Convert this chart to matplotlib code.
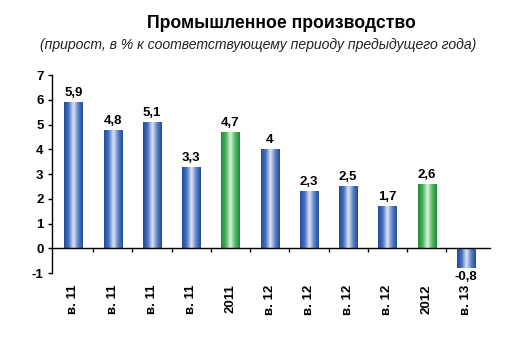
import matplotlib.pyplot as plt
import numpy as np
from matplotlib.colors import LinearSegmentedColormap

plt.rcParams["font.family"] = ["Liberation Sans", "DejaVu Sans"]
plt.rcParams["axes.unicode_minus"] = False

labels = ["в. 11", "в. 11", "в. 11", "в. 11", "2011", "в. 12",
          "в. 12", "в. 12", "в. 12", "2012", "в. 13"]
values = [5.9, 4.8, 5.1, 3.3, 4.7, 4.0, 2.3, 2.5, 1.7, 2.6, -0.8]
value_text = ["5,9", "4,8", "5,1", "3,3", "4,7", "4", "2,3", "2,5", "1,7", "2,6", "-0,8"]
is_year = [False, False, False, False, True, False, False, False, False, True, False]

blue_cmap = LinearSegmentedColormap.from_list(
    "blue_cyl", ["#1d4b9c", "#4a72c0", "#dfe6f6", "#5d82c8", "#1d4b9c"])
green_cmap = LinearSegmentedColormap.from_list(
    "green_cyl", ["#1f8a38", "#49b35c", "#dcf5de", "#55bb66", "#1f8a38"])

fig = plt.figure(figsize=(5.09, 3.4), dpi=100)
ax = fig.add_axes([0.102, 0.197, 0.861, 0.582])

x = np.arange(len(values))
bars = ax.bar(x, values, width=0.46, color="none", edgecolor="none", zorder=2)

# cylinder-like gradient in each bar
grad = np.linspace(0, 1, 64).reshape(1, -1)
for b, yr in zip(bars, is_year):
    x0, y0 = b.get_x(), b.get_y()
    w, h = b.get_width(), b.get_height()
    im = ax.imshow(grad, cmap=green_cmap if yr else blue_cmap, aspect="auto",
                   extent=[x0, x0 + w, y0, y0 + h], zorder=2)
    im.set_clip_path(b)

for xi, v, t in zip(x, values, value_text):
    if v >= 0:
        ax.text(xi, v + 0.12, t, ha="center", va="bottom", fontsize=9.5, fontweight="bold")
    else:
        ax.text(xi, v - 0.12, t, ha="center", va="top", fontsize=9.5, fontweight="bold")

ax.set_xlim(-0.55, 10.62)
ax.set_ylim(-1, 7)
ax.set_yticks(range(-1, 8))
ax.tick_params(axis="y", labelsize=9.5, length=3, width=1, pad=3)
for lbl in ax.get_yticklabels():
    lbl.set_fontweight("bold")

ax.spines["top"].set_visible(False)
ax.spines["right"].set_visible(False)
ax.spines["left"].set_linewidth(1)
ax.spines["bottom"].set_position(("data", 0))
ax.spines["bottom"].set_linewidth(1)

ax.set_xticks(x)
ax.set_xticklabels(labels, rotation=90, fontsize=9.5, fontweight="bold")
ax.tick_params(axis="x", length=0, pad=26)
ax.set_xticks(x[:-1] + 0.5, minor=True)
ax.tick_params(axis="x", which="minor", length=3, width=1, direction="out")

fig.text(0.552, 0.93, "Промышленное производство", ha="center", va="center",
         fontsize=12.7, fontweight="bold")
fig.text(0.507, 0.867, "(прирост, в % к соответствующему периоду предыдущего года)",
         ha="center", va="center", fontsize=10.1, style="italic", color="#222222")

plt.savefig("out.png", dpi=100)
